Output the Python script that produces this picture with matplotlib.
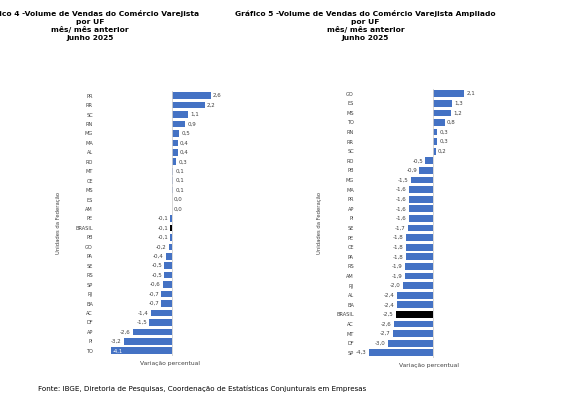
import matplotlib
matplotlib.use("Agg")
import matplotlib.pyplot as plt

uf4 = ["PR","RR","SC","RN","MG","MA","AL","RO","MT","CE","MS","ES","AM","PE","BRASIL","PB","GO","PA","SE","RS","SP","RJ","BA","AC","DF","AP","PI","TO"]
v4 = [2.6,2.2,1.1,0.9,0.5,0.4,0.4,0.3,0.1,0.1,0.1,0.0,0.0,-0.1,-0.1,-0.1,-0.2,-0.4,-0.5,-0.5,-0.6,-0.7,-0.7,-1.4,-1.5,-2.6,-3.2,-4.1]
uf5 = ["GO","ES","MS","TO","RN","RR","SC","RO","PB","MG","MA","PR","AP","PI","SE","PE","CE","PA","RS","AM","RJ","AL","BA","BRASIL","AC","MT","DF","SP"]
v5 = [2.1,1.3,1.2,0.8,0.3,0.3,0.2,-0.5,-0.9,-1.5,-1.6,-1.6,-1.6,-1.6,-1.7,-1.8,-1.8,-1.8,-1.9,-1.9,-2.0,-2.4,-2.4,-2.5,-2.6,-2.7,-3.0,-4.3]

BLUE = "#4472C4"
fig = plt.figure(figsize=(5.8, 4.04), dpi=100)
fig.patch.set_facecolor("white")

def fmt(v):
    return f"{v:.1f}".replace(".", ",")

def panel(rect, labels, vals, xlim, ylab, inside=None):
    ax = fig.add_axes(rect)
    n = len(vals)
    ys = list(range(n))
    cols = ["black" if l == "BRASIL" else BLUE for l in labels]
    ax.barh(ys, vals, color=cols, height=0.7)
    ax.set_ylim(n - 0.5, -0.5)
    ax.set_xlim(*xlim)
    ax.set_yticks(ys)
    ax.set_yticklabels(labels, fontsize=3.6, color="#404040")
    ax.tick_params(axis="y", length=0, pad=2)
    ax.set_xticks([])
    for s in ax.spines.values():
        s.set_visible(False)
    ax.axvline(0, color="#d0d0d0", lw=0.6)
    off = (xlim[1] - xlim[0]) * 0.015
    for i, v in enumerate(vals):
        if inside is not None and i == inside:
            ax.text(v + off, i, fmt(v), va="center", ha="left", fontsize=3.8, color="white")
        elif v >= 0:
            ax.text(v + off, i, fmt(v), va="center", ha="left", fontsize=4, color="#404040")
        else:
            ax.text(v - off, i, fmt(v), va="center", ha="right", fontsize=4, color="#404040")
    ax.set_xlabel("Variação percentual", fontsize=4.3, color="#404040", labelpad=4)
    ax.set_ylabel(ylab, fontsize=3.8, color="#404040", labelpad=10)
    return ax

panel([0.165, 0.12, 0.255, 0.655], uf4, v4, (-5.1, 4.8), "Unidades da Federação", inside=len(v4)-1)
panel([0.615, 0.115, 0.25, 0.665], uf5, v5, (-5.1, 4.6), "Unidades da Federação")

fig.text(0.155, 0.975, "Gráfico 4 -Volume de Vendas do Comércio Varejista\npor UF\nmês/ mês anterior\nJunho 2025",
         ha="center", va="top", fontsize=5.4, fontweight="bold", linespacing=1.3)
fig.text(0.63, 0.975, "Gráfico 5 -Volume de Vendas do Comércio Varejista Ampliado\npor UF\nmês/ mês anterior\nJunho 2025",
         ha="center", va="top", fontsize=5.4, fontweight="bold", linespacing=1.3)
fig.text(0.065, 0.03, "Fonte: IBGE, Diretoria de Pesquisas, Coordenação de Estatísticas Conjunturais em Empresas",
         ha="left", va="bottom", fontsize=5.1)
fig.savefig("out.png", dpi=100)
